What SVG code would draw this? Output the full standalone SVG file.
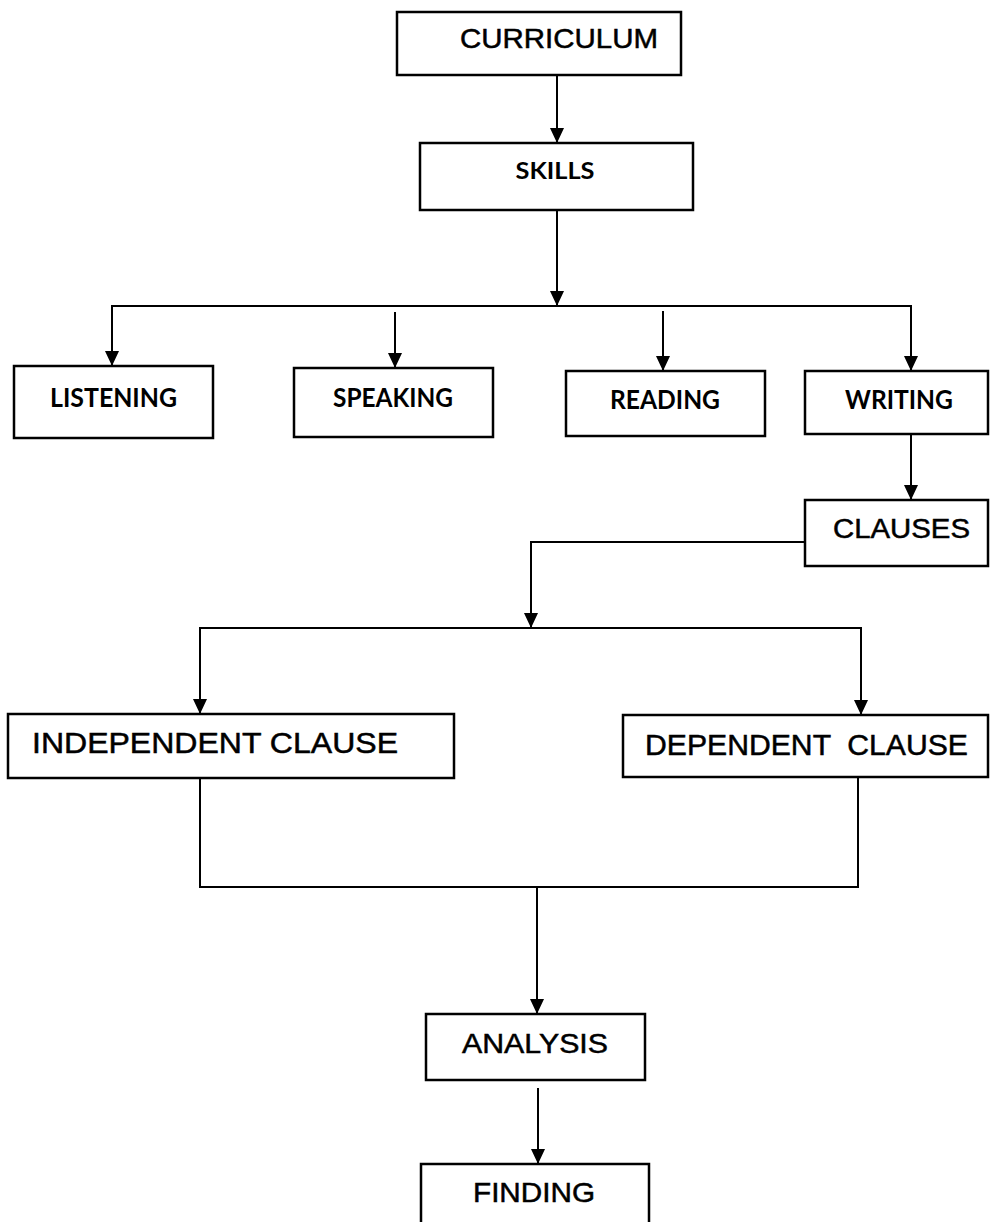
<svg xmlns="http://www.w3.org/2000/svg" width="990" height="1222" viewBox="0 0 990 1222">
<style>
.box{fill:#fff;stroke:#000;stroke-width:2.5}
.ar{font-family:"Liberation Sans",Arial,sans-serif;fill:#000;stroke:#000;stroke-width:0.5;text-anchor:middle}
.cb{font-family:Lato,"Open Sans",sans-serif;font-weight:bold;fill:#000;text-anchor:middle}
.ln{fill:none;stroke:#000;stroke-width:2}
</style>
<defs>
<marker id="ah" markerUnits="userSpaceOnUse" markerWidth="16" markerHeight="16" refX="15" refY="7" orient="auto">
<path d="M0,0 L15,7 L0,14 Z" fill="#000"/>
</marker>
</defs>
<rect width="990" height="1222" fill="#fff"/>
<g id="connectors">
<line class="ln" x1="557" y1="75" x2="557" y2="143" marker-end="url(#ah)"/>
<line class="ln" x1="557" y1="210" x2="557" y2="306" marker-end="url(#ah)"/>
<polyline class="ln" points="112,366 112,306 911,306 911,371"/>
<line class="ln" x1="112" y1="306" x2="112" y2="366" marker-end="url(#ah)"/>
<line class="ln" x1="911" y1="306" x2="911" y2="371" marker-end="url(#ah)"/>
<line class="ln" x1="395" y1="312" x2="395" y2="368" marker-end="url(#ah)"/>
<line class="ln" x1="663" y1="311" x2="663" y2="371" marker-end="url(#ah)"/>
<line class="ln" x1="911" y1="434" x2="911" y2="500" marker-end="url(#ah)"/>
<polyline class="ln" points="805,542 531,542 531,628" marker-end="url(#ah)"/>
<polyline class="ln" points="200,714 200,628 861,628 861,715"/>
<line class="ln" x1="200" y1="628" x2="200" y2="714" marker-end="url(#ah)"/>
<line class="ln" x1="861" y1="628" x2="861" y2="715" marker-end="url(#ah)"/>
<polyline class="ln" points="200,778 200,887 858,887 858,777"/>
<line class="ln" x1="537" y1="887" x2="537" y2="1014" marker-end="url(#ah)"/>
<line class="ln" x1="538" y1="1088" x2="538" y2="1164" marker-end="url(#ah)"/>
</g>
<g id="curriculum"><rect class="box" x="397" y="12" width="284" height="63"/><text class="ar" x="559" y="48" font-size="28" textLength="198" lengthAdjust="spacingAndGlyphs">CURRICULUM</text></g>
<g id="skills"><rect class="box" x="420" y="143" width="273" height="67"/><text class="cb" x="555" y="179" font-size="23" textLength="79" lengthAdjust="spacingAndGlyphs">SKILLS</text></g>
<g id="listening"><rect class="box" x="14" y="366" width="199" height="72"/><text class="cb" x="113.5" y="407" font-size="26" textLength="127" lengthAdjust="spacingAndGlyphs">LISTENING</text></g>
<g id="speaking"><rect class="box" x="294" y="368" width="199" height="69"/><text class="cb" x="393" y="407" font-size="26" textLength="120" lengthAdjust="spacingAndGlyphs">SPEAKING</text></g>
<g id="reading"><rect class="box" x="566" y="371" width="199" height="65"/><text class="cb" x="665" y="409" font-size="26" textLength="110" lengthAdjust="spacingAndGlyphs">READING</text></g>
<g id="writing"><rect class="box" x="805" y="371" width="183" height="63"/><text class="cb" x="899" y="409" font-size="26" textLength="108" lengthAdjust="spacingAndGlyphs">WRITING</text></g>
<g id="clauses"><rect class="box" x="805" y="500" width="183" height="66"/><text class="ar" x="901.5" y="538" font-size="27" textLength="137" lengthAdjust="spacingAndGlyphs">CLAUSES</text></g>
<g id="independent"><rect class="box" x="8" y="714" width="446" height="64"/><text class="ar" x="215" y="753" font-size="29" textLength="366" lengthAdjust="spacingAndGlyphs">INDEPENDENT CLAUSE</text></g>
<g id="dependent"><rect class="box" x="623" y="715" width="365" height="62"/><text class="ar" x="645" y="755" font-size="29" xml:space="preserve" style="text-anchor:start;white-space:pre" textLength="323" lengthAdjust="spacingAndGlyphs">DEPENDENT  CLAUSE</text></g>
<g id="analysis"><rect class="box" x="426" y="1014" width="219" height="66"/><text class="ar" x="535" y="1053" font-size="28" textLength="146" lengthAdjust="spacingAndGlyphs">ANALYSIS</text></g>
<g id="finding"><rect class="box" x="421" y="1164" width="228" height="70"/><text class="ar" x="534" y="1202" font-size="28" textLength="122" lengthAdjust="spacingAndGlyphs">FINDING</text></g>
</svg>
